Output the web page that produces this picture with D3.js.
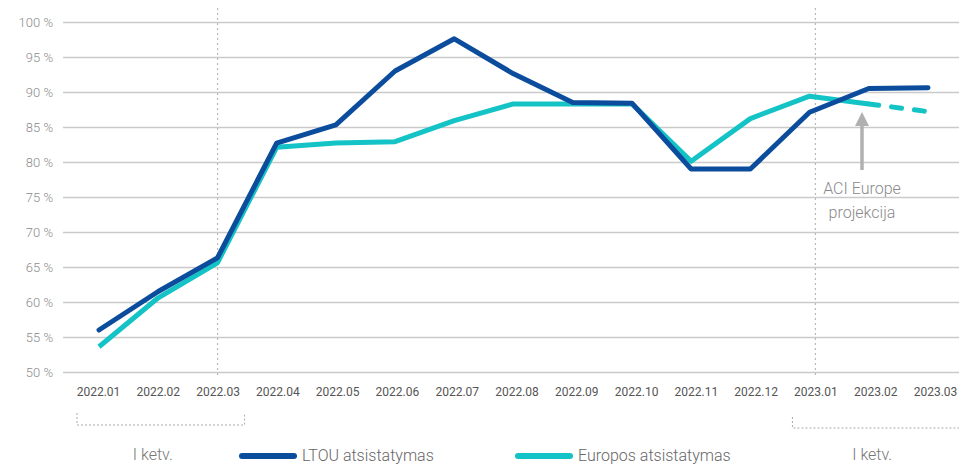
<!DOCTYPE html>
<html>
<head>
<meta charset="utf-8">
<script src="https://cdn.jsdelivr.net/npm/d3@7"></script>
<style>
body { margin: 0; background: #fff; }
text { font-family: Roboto, "Open Sans", sans-serif; }
</style>
</head>
<body>
<svg id="chart" width="959" height="464"></svg>
<script>
// data
var months = ["2022.01","2022.02","2022.03","2022.04","2022.05","2022.06","2022.07","2022.08",
              "2022.09","2022.10","2022.11","2022.12","2023.01","2023.02","2023.03"]
var ltou = [56.0, 61.5, 66.3, 82.7, 85.3, 93.0, 97.6, 92.6, 88.5, 88.4, 79.0, 79.0, 87.1, 90.5, 90.6]
var europe = [53.6, 60.6, 65.6, 82.1, 82.7, 82.9, 85.9, 88.3, 88.3, 88.3, 80.1, 86.2, 89.4, 88.3, 87.2]
var yTicks = [50, 55, 60, 65, 70, 75, 80, 85, 90, 95, 100]
var seriesNames = ["LTOU atsistatymas", "Europos atsistatymas"]
var colors = ["#0b4c9c", "#14c3c6"]

const svg = d3.select("#chart"),
    margin = {top: 22, right: 0, bottom: 92, left: 63},
    width = +svg.attr("width"),
    height = +svg.attr("height");

// scales (labels sit a touch wider than the line points)
const x = d3.scalePoint()
    .domain(months)
    .range([98, 935]);

const xLine = d3.scalePoint()
    .domain(months)
    .range([99, 928]);

const y = d3.scaleLinear()
    .domain([50, 100])
    .range([height - margin.bottom, margin.top]);

// gridlines + y labels
const yAxis = svg.append("g")
    .attr("transform", "translate(" + margin.left + ",0)")
    .call(d3.axisLeft(y).tickValues(yTicks).tickSize(-(width - margin.left)).tickPadding(10)
        .tickFormat(function (d) { return d + " %"; }));
yAxis.select(".domain").remove();
yAxis.selectAll(".tick line").attr("stroke", "#cacaca").attr("stroke-width", 1.5);
yAxis.selectAll(".tick text").attr("fill", "#8c8c8c").style("font-size", "13px").style("font-weight", 300);

// x labels
const xAxis = svg.append("g")
    .attr("transform", "translate(0," + (height - margin.bottom) + ")")
    .call(d3.axisBottom(x).tickSize(0).tickPadding(15));
xAxis.select(".domain").remove();
xAxis.selectAll(".tick text").attr("fill", "#555").style("font-size", "12px");

// quarter dividers
["2022.03", "2023.01"].forEach(function (m) {
    svg.append("line")
        .attr("x1", x(m)).attr("x2", x(m))
        .attr("y1", 8).attr("y2", 378)
        .attr("stroke", "#b8b8b8")
        .attr("stroke-width", 1.2)
        .attr("stroke-dasharray", "2,3");
});

// quarter brackets
function bracket(x0, x1, y0, y1) {
    svg.append("path")
        .attr("d", "M" + x0 + "," + y0 + "V" + y1 + "H" + x1 + "V" + y0)
        .attr("fill", "none")
        .attr("stroke", "#aaa")
        .attr("stroke-width", 1)
        .attr("stroke-dasharray", "2,2");
}
bracket(x("2022.01") - 21, x("2022.03") + 27, 413, 425);
bracket(x("2023.01") - 23, 965, 417, 428);

svg.selectAll("text.quarter")
    .data([[x("2022.02") - 5, "I ketv."], [x("2023.02") - 3, "I ketv."]])
    .enter().append("text")
    .attr("class", "quarter")
    .attr("x", function (d) { return d[0]; })
    .attr("y", 460)
    .attr("text-anchor", "middle")
    .attr("fill", "#777")
    .style("font-size", "16px")
    .style("font-weight", 300)
    .text(function (d) { return d[1]; });

// lines
const line = d3.line()
    .x(function (d) { return xLine(d.m); })
    .y(function (d) { return y(d.v); });

function pts(vals) {
    return vals.map(function (v, i) { return {m: months[i], v: v}; });
}

var euPts = pts(europe);
svg.append("path")
    .datum(euPts.slice(0, 14))
    .attr("d", line)
    .attr("fill", "none")
    .attr("stroke", colors[1])
    .attr("stroke-width", 5)
    .attr("stroke-linejoin", "round");
svg.append("path")
    .datum(euPts.slice(13))
    .attr("d", line)
    .attr("fill", "none")
    .attr("stroke", colors[1])
    .attr("stroke-width", 5)
    .attr("stroke-linecap", "round")
    .attr("stroke-dasharray", "10,13");

svg.append("path")
    .datum(pts(ltou))
    .attr("d", line)
    .attr("fill", "none")
    .attr("stroke", colors[0])
    .attr("stroke-width", 5)
    .attr("stroke-linecap", "round")
    .attr("stroke-linejoin", "round");

// annotation arrow
var ax = 862;
svg.append("line")
    .attr("x1", ax).attr("x2", ax)
    .attr("y1", 170).attr("y2", 124)
    .attr("stroke", "#b0b0b0")
    .attr("stroke-width", 3.5);
svg.append("path")
    .attr("d", "M" + (ax - 7) + ",126L" + ax + ",112L" + (ax + 7) + ",126Z")
    .attr("fill", "#b0b0b0");
svg.append("text")
    .attr("x", ax).attr("y", 194)
    .attr("text-anchor", "middle")
    .attr("fill", "#8a8a8a")
    .style("font-size", "16px")
    .style("font-weight", 300)
    .text("ACI Europe");
svg.append("text")
    .attr("x", ax).attr("y", 218)
    .attr("text-anchor", "middle")
    .attr("fill", "#8a8a8a")
    .style("font-size", "16px")
    .style("font-weight", 300)
    .text("projekcija");

// legend
var legendX = [239, 515];
seriesNames.forEach(function (name, i) {
    svg.append("line")
        .attr("x1", legendX[i] + 3).attr("x2", legendX[i] + 55)
        .attr("y1", 456).attr("y2", 456)
        .attr("stroke", colors[i])
        .attr("stroke-width", 6)
        .attr("stroke-linecap", "round");
    svg.append("text")
        .attr("x", legendX[i] + 63).attr("y", 461)
        .attr("fill", "#666")
        .style("font-size", "16px")
        .style("font-weight", 300)
        .text(name);
});
</script>
</body>
</html>
